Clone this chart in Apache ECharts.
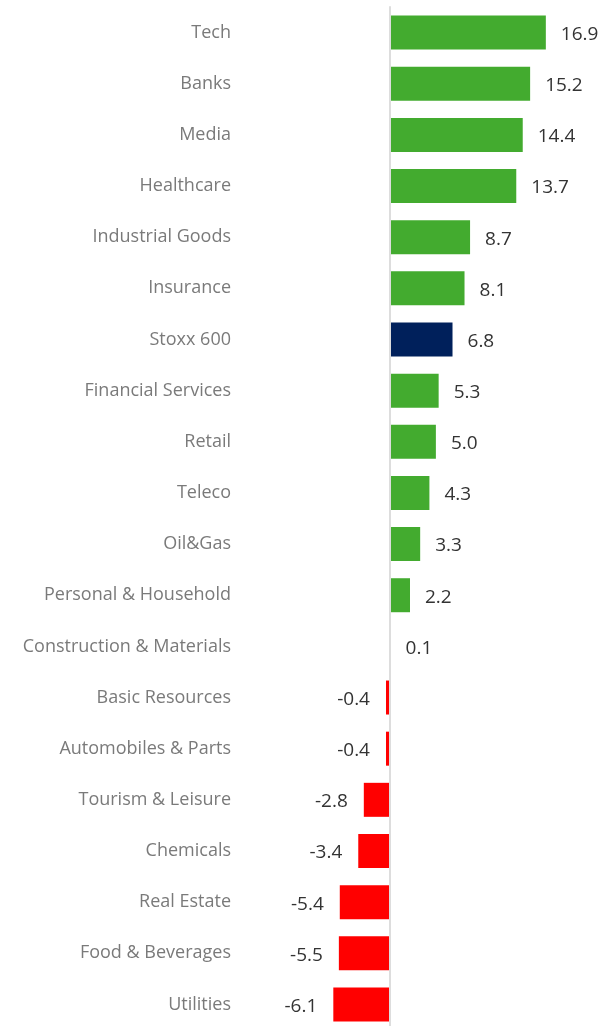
<!DOCTYPE html>
<html>
<head>
<meta charset="utf-8">
<script src="https://cdn.jsdelivr.net/npm/echarts@6/dist/echarts.min.js"></script>
<style>
  html, body { margin: 0; padding: 0; background: #fff; }
  #chart { width: 599px; height: 1026px; }
</style>
</head>
<body>
<div id="chart"></div>
<script>
// 行业涨跌幅
const categories = ['Tech', 'Banks', 'Media', 'Healthcare', 'Industrial Goods', 'Insurance', 'Stoxx 600',
  'Financial Services', 'Retail', 'Teleco', 'Oil&Gas', 'Personal & Household', 'Construction & Materials',
  'Basic Resources', 'Automobiles & Parts', 'Tourism & Leisure', 'Chemicals', 'Real Estate',
  'Food & Beverages', 'Utilities']
const values = [16.9, 15.2, 14.4, 13.7, 8.7, 8.1, 6.8, 5.3, 5.0, 4.3, 3.3, 2.2, 0.1,
  -0.4, -0.4, -2.8, -3.4, -5.4, -5.5, -6.1]
const benchmark = 'Stoxx 600'

const GREEN = '#43ab2f'
const NAVY = '#00205b'
const RED = '#ff0000'

let data = values.map((v, i) => ({
  value: v,
  itemStyle: { color: categories[i] === benchmark ? NAVY : (v < 0 ? RED : GREEN) },
  label: { position: v < 0 ? 'left' : 'right', distance: v < 0 ? 16 : 15 },
}))

let option = {
  animation: false,
  grid: { left: 325, right: 43, top: 7, bottom: -4, outerBoundsMode: 'none', containLabel: false },
  xAxis: {
    type: 'value',
    min: -7,
    max: 18,
    show: false,
  },
  yAxis: {
    type: 'category',
    inverse: true,
    z: 3, // 零线压在柱子上面
    data: categories,
    axisLine: { show: true, onZero: true, lineStyle: { color: '#dddddd', width: 2 } },
    axisTick: { show: false },
    axisLabel: {
      margin: 94,
      color: '#7a7a7a',
      fontFamily: 'Open Sans',
      fontSize: 18,
    },
  },
  series: [
    {
      type: 'bar',
      barWidth: 34,
      data: data,
      label: {
        show: true,
        color: '#333333',
        fontFamily: 'Open Sans',
        fontSize: 19,
        offset: [0, 2],
        formatter: (p) => p.value.toFixed(1),
      },
    },
  ],
}

let myChart = echarts.init(document.getElementById('chart'))
myChart.setOption(option)
</script>
</body>
</html>
